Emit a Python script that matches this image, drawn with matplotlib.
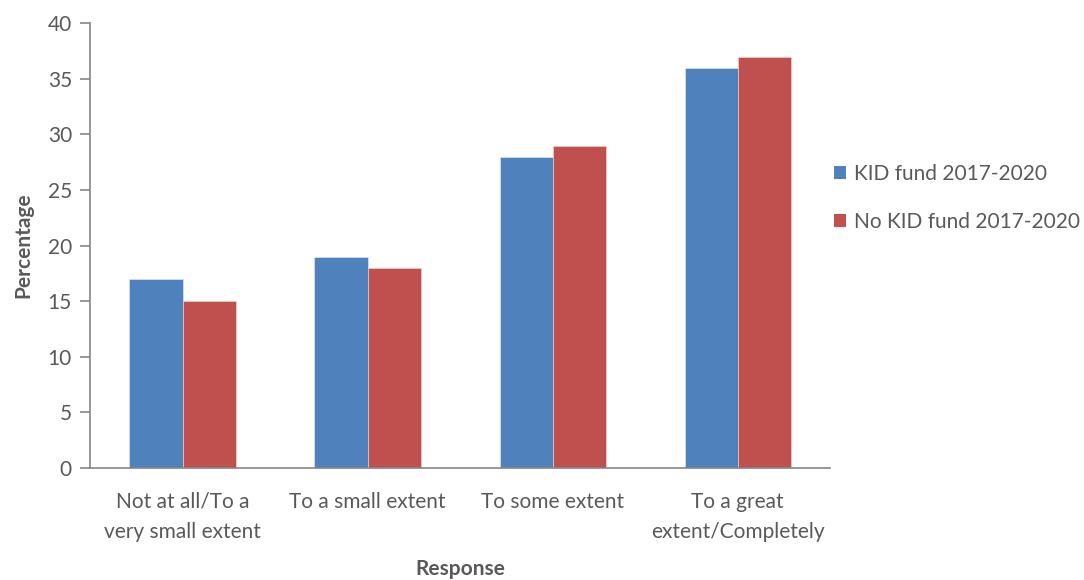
import numpy as np
import matplotlib.pyplot as plt
from matplotlib.patches import Patch

categories = ["Not at all/To a\nvery small extent", "To a small extent",
              "To some extent", "To a great\nextent/Completely"]
kid_fund = [17, 19, 28, 36]
no_kid_fund = [15, 18, 29, 37]
series_names = ["KID fund 2017-2020", "No KID fund 2017-2020"]
yticks = [0, 5, 10, 15, 20, 25, 30, 35, 40]

BLUE = "#4f81bd"
RED = "#c0504d"
TEXT = "#595959"
AXIS = "#868686"

plt.rcParams["font.family"] = ["Lato", "DejaVu Sans"]

fig = plt.figure(figsize=(10.84, 5.8), dpi=100)
ax = fig.add_axes([0.083, 0.193, 0.683, 0.767])

x = np.arange(len(categories))
width = 0.287
ax.bar(x - width / 2, kid_fund, width, color=BLUE, edgecolor="#d9e3f0", linewidth=0.5)
ax.bar(x + width / 2, no_kid_fund, width, color=RED, edgecolor="#eccccb", linewidth=0.5)

ax.set_xlim(-0.5, len(categories) - 0.5)
ax.set_ylim(0, 40)
ax.set_yticks(yticks)
ax.set_xticks(x)
ax.set_xticklabels(categories, fontsize=15, color=TEXT, linespacing=1.65)
ax.tick_params(axis="y", labelsize=15, labelcolor=TEXT, color=AXIS, length=7, width=1.2, pad=6)
ax.tick_params(axis="x", length=0, pad=17)

for side in ["top", "right"]:
    ax.spines[side].set_visible(False)
for side in ["left", "bottom"]:
    ax.spines[side].set_color(AXIS)
    ax.spines[side].set_linewidth(1.2)

ax.set_ylabel("Percentage", fontsize=15, fontweight="bold", color=TEXT, labelpad=10)
ax.set_xlabel("Response", fontsize=15, fontweight="bold", color=TEXT, labelpad=12)

handles = [Patch(facecolor=BLUE), Patch(facecolor=RED)]
fig.legend(handles, series_names, loc="center left", bbox_to_anchor=(0.752, 0.659),
           frameon=False, fontsize=15, labelcolor=TEXT, handlelength=0.6,
           handleheight=0.6, handletextpad=0.35, labelspacing=1.35)

fig.savefig("out.png", dpi=100)
